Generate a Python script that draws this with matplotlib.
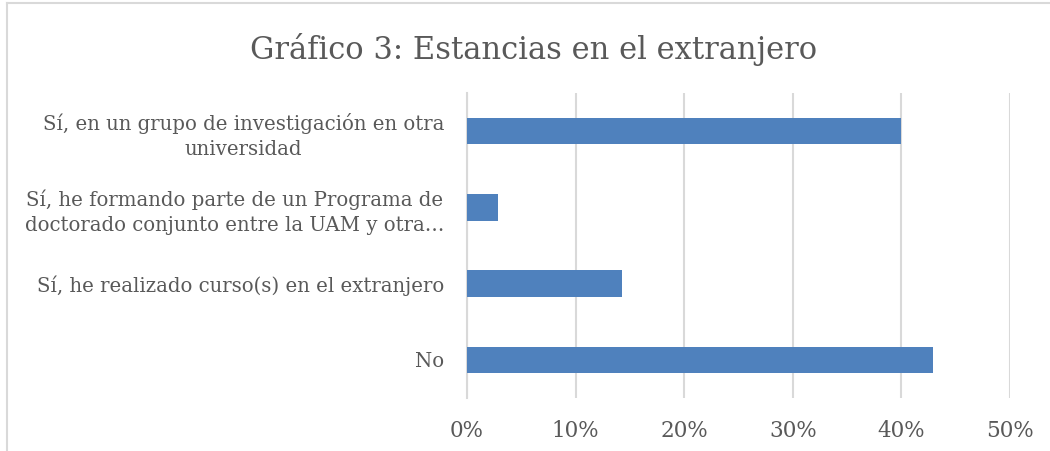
import matplotlib
matplotlib.use("Agg")
import matplotlib.pyplot as plt
from matplotlib.lines import Line2D
from matplotlib.ticker import MultipleLocator, FuncFormatter

categorias = [
    "Sí, en un grupo de investigación en otra\nuniversidad",
    "Sí, he formando parte de un Programa de\ndoctorado conjunto entre la UAM y otra…",
    "Sí, he realizado curso(s) en el extranjero",
    "No",
]
valores = [0.40, 0.029, 0.143, 0.429]

gris_texto = "#595959"
plt.rcParams["font.family"] = ["DejaVu Serif"]

fig = plt.figure(figsize=(10.5, 4.51), dpi=100)
ax = fig.add_axes([467 / 1050, 1 - 398 / 451, (1010 - 467) / 1050, (398 - 93) / 451])

pos = list(range(len(categorias)))
ax.barh(pos, valores, height=0.35, color="#4F81BD", zorder=3)
ax.set_ylim(len(categorias) - 0.5, -0.5)
ax.set_xlim(0, 0.5)
ax.set_yticks(pos)
ax.set_yticklabels(categorias, fontsize=14.25, color=gris_texto, multialignment="center",
                   linespacing=1.42)
ax.xaxis.set_major_locator(MultipleLocator(0.1))
ax.xaxis.set_major_formatter(FuncFormatter(lambda v, p: f"{v*100:.0f}%"))
ax.tick_params(axis="x", labelsize=15.5, colors=gris_texto, length=0, pad=16)
ax.tick_params(axis="y", length=0, pad=16.5)
ax.grid(axis="x", color="#d9d9d9", linewidth=1.5, zorder=0)
for s in ["top", "right", "bottom"]:
    ax.spines[s].set_visible(False)
ax.spines["left"].set_color("#d9d9d9")
ax.spines["left"].set_linewidth(1.5)

fig.text(534 / 1050, 1 - 49 / 451, "Gráfico 3: Estancias en el extranjero",
         ha="center", va="center", fontsize=22, color=gris_texto)

# marco del gráfico (solo visible arriba y a la izquierda)
fig.add_artist(Line2D([7 / 1050, 7 / 1050], [0, 1 - 3 / 451], transform=fig.transFigure,
                      color="#d9d9d9", linewidth=1.5))
fig.add_artist(Line2D([7 / 1050, 1], [1 - 3 / 451, 1 - 3 / 451], transform=fig.transFigure,
                      color="#d9d9d9", linewidth=1.5))

fig.savefig("out.png", dpi=100)
